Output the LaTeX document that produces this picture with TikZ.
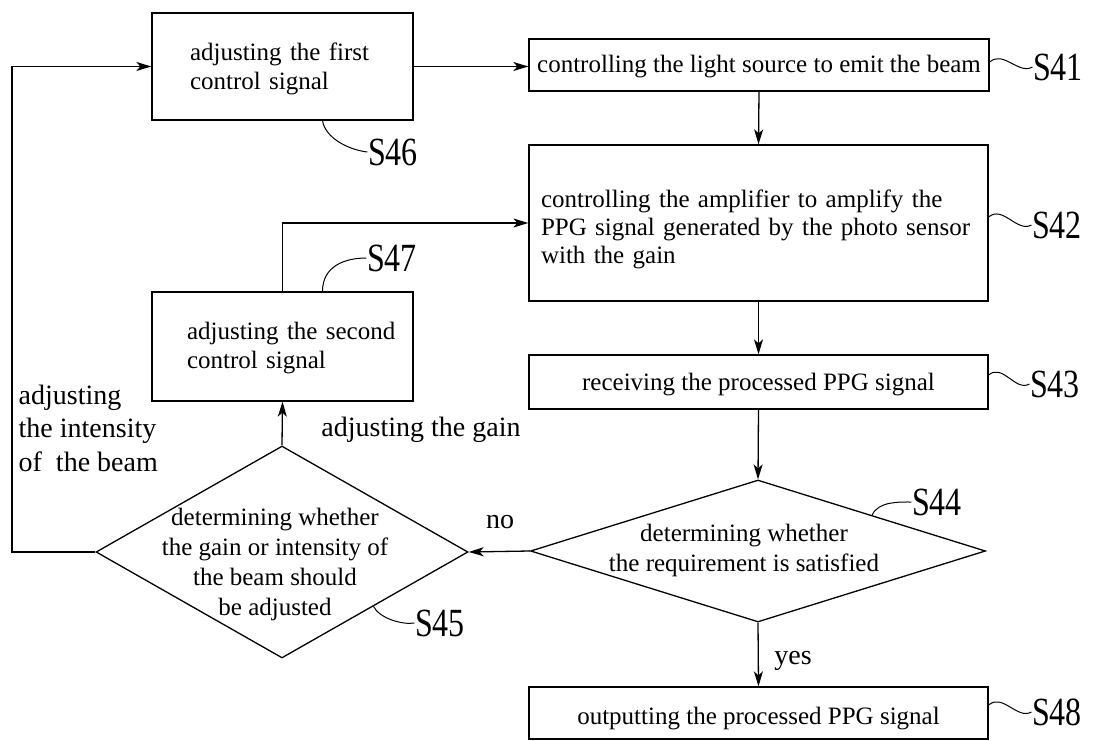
\documentclass[tikz,border=0pt]{standalone}
\usepackage{fontspec}
\setmainfont{Liberation Serif}
\usepackage{graphicx}
\usetikzlibrary{shapes.geometric,arrows.meta,calc}
\begin{document}
\begin{tikzpicture}[x=1pt,y=-1pt,
  line width=1.3pt,
  box/.style={draw, rectangle, inner sep=0pt, font=\fontsize{25}{29}\selectfont},
  dia/.style={draw, diamond, inner sep=0pt},
  txt/.style={font=\fontsize{25}{30}\selectfont, align=center, inner sep=0pt},
  lbl/.style={font=\fontsize{28}{33.5}\selectfont, inner sep=0pt},
  tag/.style={font=\fontsize{40}{40}\selectfont, inner sep=0pt},
  arr/.style={-{Stealth[length=15pt,width=9pt,inset=4pt]}},
  lead/.style={line width=1pt}
]
\useasboundingbox (0,0) rectangle (1097,741);

% boxes
\node[box, minimum width=261pt, minimum height=107pt, text width=185pt, inner xsep=38pt, align=left] (s46) at (282.5,66.5) {\rule{0pt}{22pt}adjusting the first\\control signal};
\node[box, minimum width=460pt, minimum height=52pt] (s41) at (759,65) {\rule{0pt}{21pt}controlling the light source to emit the beam};
\node[box, minimum width=459pt, minimum height=156pt, text width=435pt, inner xsep=12pt, align=left, font=\fontsize{25}{28}\selectfont] (s42) at (758.5,223) {\rule{0pt}{30pt}controlling the amplifier to amplify the\\PPG signal generated by the photo sensor\\with the gain};
\node[box, minimum width=261pt, minimum height=109pt, text width=191pt, inner xsep=35pt, align=left] (s47) at (282.5,346.5) {\rule{0pt}{21pt}\mbox{adjusting the second}\\control signal};
\node[box, minimum width=459pt, minimum height=54pt] (s43) at (758.5,382) {\rule{0pt}{23pt}receiving the processed PPG signal};
\node[box, minimum width=459pt, minimum height=52pt] (s48) at (758.5,713) {\rule{0pt}{29pt}outputting the processed PPG signal};

% diamonds
\node[dia, minimum width=372pt, minimum height=212pt] (s45) at (282,552) {};
\node[txt] (t45) at (275,564) {determining whether\\the gain or intensity of\\the beam should\\be adjusted};
\node[dia, minimum width=455pt, minimum height=142pt] (s44) at (758,551) {};
\node[txt] (t44) at (744,550) {determining whether\\the requirement is satisfied};

% labels
\node[lbl, anchor=west, align=left] (lint) at (18,428) {adjusting\\the intensity\\of\ \ the beam};
\node[lbl] (lgain) at (421,430) {adjusting the gain};
\node[lbl] (lno) at (500,522) {no};
\node[lbl] (lyes) at (793,661) {yes};

% step tags
\node[tag] (l41) at (1058,67) {\scalebox{0.8}[1]{S41}};
\node[tag] (l42) at (1057,225) {\scalebox{0.8}[1]{S42}};
\node[tag] (l43) at (1055,384) {\scalebox{0.8}[1]{S43}};
\node[tag] (l48) at (1057,712) {\scalebox{0.8}[1]{S48}};
\node[tag] (l46) at (393,152) {\scalebox{0.8}[1]{S46}};
\node[tag] (l47) at (392,258) {\scalebox{0.8}[1]{S47}};
\node[tag] (l45) at (440,623) {\scalebox{0.8}[1]{S45}};
\node[tag] (l44) at (937,502) {\scalebox{0.8}[1]{S44}};

% connectors
\coordinate (lc) at (12,552);
\draw[arr] (s46.east) -- (s46.east -| s41.west);
\draw[arr] (s41.south) -- (s42.north);
\draw[arr] (s42.south) -- (s43.north);
\draw[arr] (s43.south) -- (s44.north);
\draw[arr] (s44.south) -- (s48.north);
\draw[arr] (s44.west) -- (s45.east);
\draw[arr] (s45.north) -- (s47.south);
\draw[arr] (s47.north) |- (s42.west);
\draw[arr] (s45.west) -- (lc) |- (s46.west);

% leaders
\coordinate (p45) at ($(s45.east)!0.51!(s45.south)$);
\coordinate (p44) at ($(s44.north)!0.5!(s44.east)$);
\draw[lead] ([yshift=3pt]s41.east) .. controls +(14,-12) and +(-14,8) .. (l41.west);
\draw[lead] ([yshift=6pt]s42.east) .. controls +(14,-12) and +(-14,8) .. (l42.west);
\draw[lead] ([yshift=7pt]s43.east) .. controls +(14,-12) and +(-14,8) .. (l43.west);
\draw[lead] ([yshift=8pt]s48.east) .. controls +(14,-12) and +(-14,8) .. (l48.west);
\draw[lead] ([xshift=40pt]s46.south) .. controls +(3,18) and +(-18,-2) .. (l46.west);
\draw[lead] ([xshift=40pt]s47.north) .. controls +(0,-25) and +(-22,0) .. (l47.west);
\draw[lead] (p45) .. controls +(6,12) and +(-12,2) .. (l45.west);
\draw[lead] (p44) .. controls +(6,-14) and +(-12,0) .. (l44.west);
\end{tikzpicture}
\end{document}
